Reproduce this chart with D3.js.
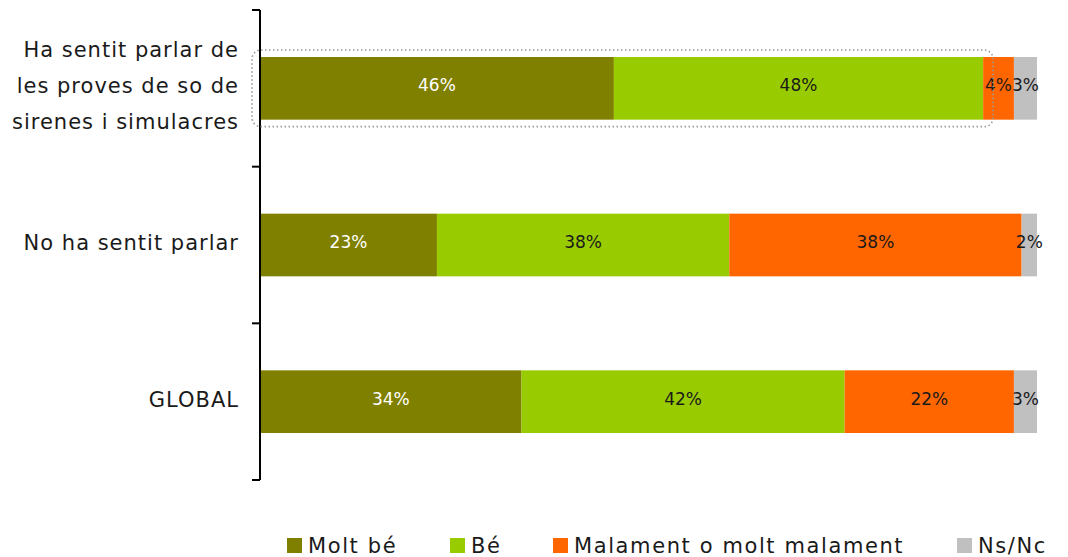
<!DOCTYPE html>
<html>
<head>
<meta charset="utf-8">
<script src="https://cdn.jsdelivr.net/npm/d3@7"></script>
<style>
  body { margin: 0; background: #fff; }
  svg text { font-family: "DejaVu Sans", Verdana, sans-serif; fill: #1a1a1a; }
</style>
</head>
<body>
<svg id="chart" width="1068" height="557"></svg>
<script>
// categories, top to bottom (each label split into lines)
const categories = ["Ha sentit parlar", "No ha sentit parlar", "GLOBAL"];
const categoryLines = [
  ["Ha sentit parlar de", "les proves de so de", "sirenes i simulacres"],
  ["No ha sentit parlar"],
  ["GLOBAL"]
];
const seriesNames = ["Molt bé", "Bé", "Malament o molt malament", "Ns/Nc"];
const seriesColors = ["#808000", "#99cc00", "#ff6600", "#c0c0c0"];
const seriesLabelColors = ["#ffffff", "#1a1a1a", "#1a1a1a", "#1a1a1a"];
// percentages as printed on the bars
const moltBe = [46, 23, 34];
const be = [48, 38, 42];
const malament = [4, 38, 22];
const nsnc = [3, 2, 3];

const rows = categories.map((c, i) => ({
  cat: c,
  "Molt bé": moltBe[i],
  "Bé": be[i],
  "Malament o molt malament": malament[i],
  "Ns/Nc": nsnc[i]
}));

const svg = d3.select("#chart");
const margin = { left: 260, right: 31, top: 10, bottom: 77 };
const width = 1068 - margin.left - margin.right;
const height = 557 - margin.top - margin.bottom;

const g = svg.append("g").attr("transform", `translate(${margin.left},${margin.top})`);

const x = d3.scaleLinear().domain([0, 1]).range([0, width]);
const y = d3.scaleBand().domain(categories).range([0, height]).paddingInner(0.6).paddingOuter(0.3);
const yOuter = d3.scaleBand().domain(categories).range([0, height]);

// stacked + normalised (printed percentages are rounded and add to 101)
const stack = d3.stack().keys(seriesNames).offset(d3.stackOffsetExpand);
const layers = stack(rows);

// highlight box around the first bar
const first = layers[1][0];
svg.append("rect")
  .attr("x", margin.left - 8)
  .attr("y", margin.top + y(categories[0]) - 7)
  .attr("width", x(first[1]) + 18)
  .attr("height", y.bandwidth() + 14)
  .attr("rx", 9)
  .attr("fill", "none")
  .attr("stroke", "#999")
  .attr("stroke-width", 1.6)
  .attr("stroke-dasharray", "1.5 2.5");

const layerG = g.selectAll("g.layer")
  .data(layers)
  .join("g")
  .attr("class", "layer")
  .attr("fill", (d, i) => seriesColors[i]);

layerG.selectAll("rect")
  .data((d) => d)
  .join("rect")
  .attr("x", (d) => x(d[0]))
  .attr("y", (d) => y(d.data.cat))
  .attr("width", (d) => x(d[1]) - x(d[0]))
  .attr("height", y.bandwidth());

layerG.each(function (layer, i) {
  d3.select(this).selectAll("text")
    .data(layer)
    .join("text")
    .attr("x", (d) => (x(d[0]) + x(d[1])) / 2)
    .attr("y", (d) => y(d.data.cat) + y.bandwidth() / 2 + 3)
    .attr("text-anchor", "middle")
    .style("font-size", "17px")
    .style("fill", seriesLabelColors[i])
    .text((d) => d.data[layer.key] + "%");
});

// axis with ticks between categories
const tickPos = [0].concat(categories.map((c) => yOuter(c) + yOuter.bandwidth()));
const axisG = g.append("g");
axisG.append("line")
  .attr("x1", 0).attr("x2", 0)
  .attr("y1", 0).attr("y2", height)
  .attr("stroke", "#000").attr("stroke-width", 2);
axisG.selectAll("line.tick")
  .data(tickPos)
  .join("line")
  .attr("class", "tick")
  .attr("x1", -8).attr("x2", 0)
  .attr("y1", (d) => d).attr("y2", (d) => d)
  .attr("stroke", "#000").attr("stroke-width", 2);

// category labels
const labelG = g.selectAll("text.cat")
  .data(categories)
  .join("text")
  .attr("class", "cat")
  .attr("text-anchor", "end")
  .style("font-size", "21px")
  .style("letter-spacing", "1px")
  .attr("transform", (d) => `translate(-21,${y(d) + y.bandwidth() / 2})`);
labelG.each(function (d, i) {
  const lines = categoryLines[i];
  const lh = 36;
  d3.select(this).selectAll("tspan")
    .data(lines)
    .join("tspan")
    .attr("x", 0)
    .attr("y", (l, j) => (j - (lines.length - 1) / 2) * lh + 5)
    .text((l) => l);
});

// legend
const legendX = [287, 450, 553, 957];
const legend = svg.append("g").attr("transform", "translate(0,538)");
const li = legend.selectAll("g")
  .data(seriesNames)
  .join("g")
  .attr("transform", (d, i) => `translate(${legendX[i]},0)`);
li.append("rect")
  .attr("width", 15).attr("height", 15)
  .attr("fill", (d, i) => seriesColors[i]);
li.append("text")
  .attr("x", 21).attr("y", 15)
  .style("font-size", "21px")
  .style("letter-spacing", "1.6px")
  .text((d) => d);
</script>
</body>
</html>
